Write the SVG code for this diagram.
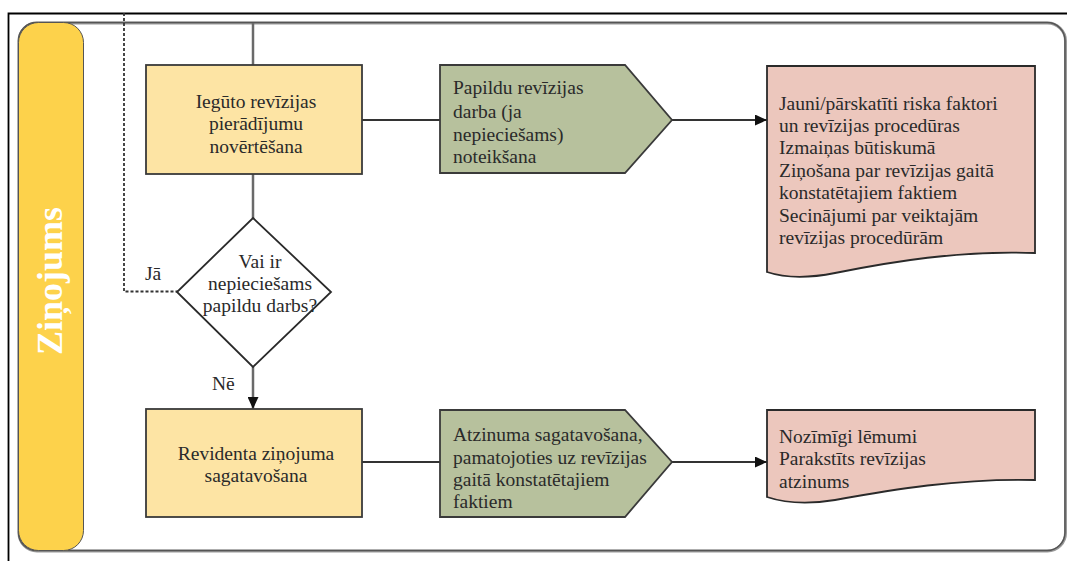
<svg xmlns="http://www.w3.org/2000/svg" width="1067" height="561" viewBox="0 0 1067 561">
<defs>
<style>
.t{font-family:"Liberation Serif","Times New Roman",serif;font-size:19.5px;fill:#2a2a2a}
.box{fill:#FDE4A4;stroke:#3a3a3a;stroke-width:1.8}
.pent{fill:#B7C19D;stroke:#3a3a3a;stroke-width:1.8}
.doc{fill:#ECC7BD;stroke:#2a2a2a;stroke-width:1.8}
.ln{fill:none;stroke:#333;stroke-width:1.8}
.gl{fill:none;stroke:#6a6a6a;stroke-width:2.5}
</style>
<marker id="ah" viewBox="0 0 12 11" refX="12" refY="5.5" markerWidth="12" markerHeight="11" markerUnits="userSpaceOnUse" orient="auto">
<path d="M0,0 L12,5.5 L0,11 Z" fill="#111"/>
</marker>
</defs>
<rect width="1067" height="561" fill="#fff"/>
<g id="frame">
<path d="M8.5,561 V13.5 H1067" fill="none" stroke="#000" stroke-width="1.8"/>
</g>
<g id="lane">
<rect x="19" y="23" width="1046.5" height="528" rx="18" fill="#fff" stroke="#9a9a9a" stroke-width="3"/>
<rect x="18.5" y="22.5" width="1046.5" height="528" rx="18" fill="none" stroke="#555" stroke-width="1.5"/>
<rect x="18.5" y="22.5" width="65" height="528" rx="20" fill="#FDD24B" stroke="#555" stroke-width="1"/>
<text transform="translate(62,281) rotate(-90)" text-anchor="middle" style="font-family:'Liberation Serif','Times New Roman',serif;font-size:36px;font-weight:bold;fill:#fff">Ziņojums</text>
</g>
<g id="connectors">
<path class="ln" d="M124,13 V291.5 H178" stroke-dasharray="3,2"/>
<path class="gl" d="M253,23 V65"/>
<path class="gl" d="M253,174 V218"/>
<path class="gl" d="M253,367 V409" marker-end="url(#ah)"/>
<path class="ln" d="M362,120 H440"/>
<path class="ln" d="M672,120 H767" marker-end="url(#ah)"/>
<path class="ln" d="M362,462 H440"/>
<path class="ln" d="M672,462 H767" marker-end="url(#ah)"/>
<text class="t" x="145" y="280">Jā</text>
<text class="t" x="212" y="390">Nē</text>
</g>
<g id="n1">
<rect class="box" x="146" y="65" width="216" height="109"/>
<text class="t" text-anchor="middle" x="256"><tspan x="256" y="108">Iegūto revīzijas</tspan><tspan x="256" y="130">pierādījumu</tspan><tspan x="256" y="153">novērtēšana</tspan></text>
</g>
<g id="n2">
<path class="pent" d="M440,65 H625 L672,120 L625,173 H440 Z"/>
<text class="t"><tspan x="453" y="94">Papildu revīzijas</tspan><tspan x="453" y="118">darba (ja</tspan><tspan x="453" y="141">nepieciešams)</tspan><tspan x="453" y="163">noteikšana</tspan></text>
</g>
<g id="n3">
<path class="doc" d="M767,66 H1035 V253 C960,250 890,262 835,273 C805,279 785,278 767,272 Z"/>
<text class="t"><tspan x="779" y="110">Jauni/pārskatīti riska faktori</tspan><tspan x="779" y="132">un revīzijas procedūras</tspan><tspan x="779" y="154">Izmaiņas būtiskumā</tspan><tspan x="779" y="177">Ziņošana par revīzijas gaitā</tspan><tspan x="779" y="199">konstatētajiem faktiem</tspan><tspan x="779" y="222">Secinājumi par veiktajām</tspan><tspan x="779" y="244">revīzijas procedūrām</tspan></text>
</g>
<g id="n4">
<path d="M253,218 L331,292 L253,367 L177,292 Z" fill="#fff" stroke="#2a2a2a" stroke-width="1.8"/>
<text class="t" text-anchor="middle"><tspan x="260" y="268">Vai ir</tspan><tspan x="260" y="290">nepieciešams</tspan><tspan x="260" y="312">papildu darbs?</tspan></text>
</g>
<g id="n5">
<rect class="box" x="146" y="409" width="216" height="108"/>
<text class="t" text-anchor="middle"><tspan x="256" y="460">Revidenta ziņojuma</tspan><tspan x="256" y="482">sagatavošana</tspan></text>
</g>
<g id="n6">
<path class="pent" d="M440,410 H625 L672,462 L625,517 H440 Z"/>
<text class="t"><tspan x="453" y="441">Atzinuma sagatavošana,</tspan><tspan x="453" y="464">pamatojoties uz revīzijas</tspan><tspan x="453" y="486">gaitā konstatētajiem</tspan><tspan x="453" y="508">faktiem</tspan></text>
</g>
<g id="n7">
<path class="doc" d="M767,410 H1035 V480 C960,478 890,490 835,500 C805,505 785,503 767,497 Z"/>
<text class="t"><tspan x="779" y="443">Nozīmīgi lēmumi</tspan><tspan x="779" y="465">Parakstīts revīzijas</tspan><tspan x="779" y="488">atzinums</tspan></text>
</g>
</svg>
